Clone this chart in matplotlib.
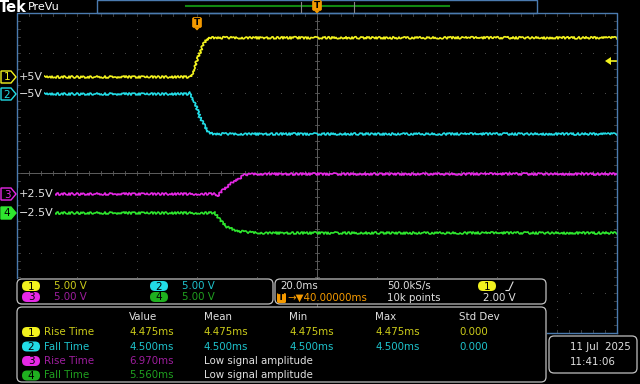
import matplotlib
matplotlib.use("Agg")
import matplotlib.pyplot as plt
from matplotlib.patches import FancyBboxPatch, Polygon, Rectangle
import numpy as np

# scope settings
volts_per_div = 5.0
ms_per_div = 20.0
t_left, t_right = -60.0, 140.0   # ms, trigger at 0

# channel ground markers (divisions from centre)
ch_offset = [2.4, 1.975, -0.525, -1.0]
ch_labels = ["+5V", "\u22125V", "+2.5V", "\u22122.5V"]
ch_colors = ["#f2f21e", "#22dce6", "#e628e6", "#2ee62e"]
txt_colors = ["#cccc1a", "#1ec3cc", "#9e1e9e", "#1fa01f"]

# waveform breakpoints (ms, V)
ch1_t = [-60, -2.0, 0.0, 2.0, 3.3, 5.0, 140]
ch1_v = [0.0, 0.0, 2.1, 4.0, 4.75, 4.9, 4.9]
ch2_t = [-60, -3.0, -2.3, -0.7, 1.0, 2.7, 4.0, 5.7, 140]
ch2_v = [0.0, 0.0, 0.15, -1.1, -2.9, -4.1, -4.9, -5.0, -5.0]
ch3_t = [-60, 6.3, 6.7, 8.7, 12.0, 14.3, 16.0, 18.3, 140]
ch3_v = [0.0, 0.0, -0.3, 0.5, 1.5, 2.0, 2.4, 2.5, 2.5]
ch4_t = [-60, 6.0, 7.7, 10.0, 13.3, 16.7, 22.0, 140]
ch4_v = [0.0, 0.0, -0.9, -1.75, -2.25, -2.4, -2.5, -2.5]
traces = [(ch1_t, ch1_v), (ch2_t, ch2_v), (ch3_t, ch3_v), (ch4_t, ch4_v)]

scale_text = ["5.00 V", "5.00 V", "5.00 V", "5.00 V"]
horiz_scale = "20.0ms"
sample_rate = "50.0kS/s"
delay_text = "\u2192\u25bc40.00000ms"
rec_len = "10k points"
trig_level = "2.00 V"

meas_header = ["Value", "Mean", "Min", "Max", "Std Dev"]
meas_names = ["Rise Time", "Fall Time", "Rise Time", "Fall Time"]
meas_rows = [
    ["4.475ms", "4.475ms", "4.475ms", "4.475ms", "0.000"],
    ["4.500ms", "4.500ms", "4.500ms", "4.500ms", "0.000"],
    ["6.970ms", "Low signal amplitude"],
    ["5.560ms", "Low signal amplitude"],
]
date_str = "11 Jul  2025"
time_str = "11:41:06"

W, H = 640, 384
fig = plt.figure(figsize=(W / 100, H / 100), dpi=100, facecolor="black")

# graticule: x 17..617 px, y 13..333 px
gx0, gy0, gx1, gy1 = 17, 13, 617, 333
ax = fig.add_axes([gx0 / W, 1 - gy1 / H, (gx1 - gx0) / W, (gy1 - gy0) / H])
ax.set_facecolor("black")
ax.set_xlim(t_left, t_right)
ax.set_ylim(-4, 4)
ax.axis("off")

grid_c = "#4a4a4a"
# dotted division lines
for k in range(1, 10):
    if k == 5:
        continue
    tx = t_left + k * ms_per_div
    ys = np.arange(-4, 4.01, 0.2)
    ax.plot([tx] * len(ys), ys, ls="none", marker="s", ms=0.7, color=grid_c, mew=0)
for j in range(-3, 4):
    if j == 0:
        continue
    xs = np.arange(t_left, t_right + 0.01, ms_per_div / 5)
    ax.plot(xs, [j] * len(xs), ls="none", marker="s", ms=0.7, color=grid_c, mew=0)
# centre lines with ticks
ax.axhline(0, color="#5e5e5e", lw=0.7)
ax.axvline(t_left + 5 * ms_per_div, color="#5e5e5e", lw=0.7)
for xs in np.arange(t_left, t_right + 0.01, ms_per_div / 5):
    ax.plot([xs, xs], [-0.06, 0.06], color="#5e5e5e", lw=0.6)
for ys in np.arange(-4, 4.01, 0.2):
    ax.plot([40 - 0.7, 40 + 0.7], [ys, ys], color="#5e5e5e", lw=0.6)
# edge ticks
for xs in np.arange(t_left, t_right + 0.01, ms_per_div / 5):
    ax.plot([xs, xs], [4, 3.93], color=grid_c, lw=0.6)
    ax.plot([xs, xs], [-4, -3.93], color=grid_c, lw=0.6)
for ys in np.arange(-4, 4.01, 0.2):
    ax.plot([t_left, t_left + 1.0], [ys, ys], color=grid_c, lw=0.6)
    ax.plot([t_right, t_right - 1.0], [ys, ys], color=grid_c, lw=0.6)

# waveforms
for (t, v), off, c in zip(traces, ch_offset, ch_colors):
    y = np.array(v) / volts_per_div + off
    ln, = ax.plot(t, y, color=c, lw=1.2, solid_joinstyle="round")
    ln.set_sketch_params(1.1, 2.5, 3.0)

# overlay in pixel coordinates
ov = fig.add_axes([0, 0, 1, 1])
ov.set_xlim(0, W)
ov.set_ylim(H, 0)
ov.axis("off")
ov.patch.set_alpha(0)

border_c = "#4b7bb0"
ov.plot([gx0, gx0, gx1, gx1], [278, gy0, gy0, gy1], color=border_c, lw=1.0)
ov.plot([547, gx1], [gy1, gy1], color=border_c, lw=1.0)

# top bar
ov.text(-1, 7, "Tek", color="white", fontsize=10.5, fontweight="bold", va="center", ha="left")
ov.text(28, 7, "PreVu", color="white", fontsize=8, va="center", ha="left")
ov.add_patch(Rectangle((97, 0), 440, 13, fill=False, ec=border_c, lw=1.0))
ov.plot([186, 449], [6, 6], color="#118811", lw=1.5)
ov.plot([301, 301], [2, 12], color="#888888", lw=0.8)
ov.plot([354, 354], [2, 12], color="#888888", lw=0.8)


def trig_tag(x, y):
    ov.add_patch(FancyBboxPatch((x - 4.5, y - 5.5), 9, 10,
                                boxstyle="round,pad=0,rounding_size=1.5",
                                fc="#f59a00", ec="#f59a00", lw=0.5, zorder=5))
    ov.add_patch(Polygon([(x - 3, y + 4.5), (x + 3, y + 4.5), (x, y + 7.5)],
                         closed=True, fc="#f59a00", ec="none", zorder=5))
    ov.text(x, y - 0.3, "T", color="black", fontsize=6.5, fontweight="bold",
            ha="center", va="center", zorder=6)


trig_tag(317, 6)
trig_tag(197, 23)

# trigger level arrow on the right
tl_y = 77 - 2.0 * 8
ov.add_patch(Polygon([(605, tl_y), (611, tl_y - 4), (611, tl_y + 4)],
                     closed=True, fc=ch_colors[0], ec="none"))
ov.plot([611, 616], [tl_y, tl_y], color=ch_colors[0], lw=1.2)

# channel markers and labels
for i in range(4):
    yy = 173 - ch_offset[i] * 40
    c = ch_colors[i]
    filled = (i == 3)
    pts = [(1, yy - 6), (11, yy - 6), (16, yy), (11, yy + 6), (1, yy + 6)]
    ov.add_patch(Polygon(pts, closed=True, fc=c if filled else "black",
                         ec=c, lw=1.0, zorder=4))
    ov.text(7, yy + 0.5, str(i + 1), color="black" if filled else c,
            fontsize=7.5, ha="center", va="center", zorder=5)
    ov.text(19, yy, ch_labels[i], color="#e0e0e0", fontsize=8, ha="left", va="center",
            zorder=5, bbox=dict(boxstyle="square,pad=0.1", fc="black", ec="none"))


def panel(x, y, w, h):
    ov.add_patch(FancyBboxPatch((x, y), w, h, boxstyle="round,pad=0,rounding_size=5",
                                fc="black", ec="#c0c0c0", lw=0.9, zorder=3))


def pill(x, y, n, c):
    ov.add_patch(FancyBboxPatch((x - 9, y - 5), 18, 10,
                                boxstyle="round,pad=0,rounding_size=5",
                                fc=c, ec="none", zorder=4))
    ov.text(x, y + 0.5, str(n), color="black", fontsize=7.5, ha="center",
            va="center", zorder=5)


fs = 7.4
# vertical scale panel
panel(17, 279, 256, 25)
for i in range(4):
    col = i % 2
    row = i // 2
    px = 31 + col * 128
    py = 286 + row * 11
    pill(px, py, i + 1, ch_colors[i] if i != 3 else "#1fb01f")
    ov.text(px + 23, py, scale_text[i], color=txt_colors[i], fontsize=fs,
            ha="left", va="center", zorder=5)

# horizontal / trigger panel
panel(275, 279, 271, 25)
ov.text(280, 286, horiz_scale, color="#e0e0e0", fontsize=fs, ha="left", va="center", zorder=5)
ov.text(387, 286, sample_rate, color="#e0e0e0", fontsize=fs, ha="left", va="center", zorder=5)
pill(487, 286, 1, ch_colors[0])
ov.plot([506, 509, 513], [290.5, 290.5, 282], color="#e0e0e0", lw=0.8, zorder=5)
ov.add_patch(FancyBboxPatch((277, 293), 9, 10, boxstyle="round,pad=0,rounding_size=1.5",
                            fc="#f59a00", ec="none", zorder=5))
ov.text(281.5, 298, "T", color="black", fontsize=6.5, fontweight="bold",
        ha="center", va="center", zorder=6)
ov.text(287, 298, delay_text, color="#f59a00", fontsize=fs, ha="left", va="center", zorder=5)
ov.text(387, 298, rec_len, color="#e0e0e0", fontsize=fs, ha="left", va="center", zorder=5)
ov.text(483, 298, trig_level, color="#e0e0e0", fontsize=fs, ha="left", va="center", zorder=5)

# measurement panel
panel(17, 307, 529, 75)
col_x = [129, 204, 289, 375, 459]
for cx, hd in zip(col_x, meas_header):
    ov.text(cx, 317, hd, color="#e0e0e0", fontsize=fs, ha="left", va="center", zorder=5)
for i in range(4):
    ry = 332 + i * 14.5
    pill(31, ry, i + 1, ch_colors[i] if i != 3 else "#1fb01f")
    ov.text(44, ry, meas_names[i], color=txt_colors[i], fontsize=fs, ha="left",
            va="center", zorder=5)
    vals = meas_rows[i]
    for j, v in enumerate(vals):
        c = txt_colors[i] if len(vals) == 5 or j == 0 else "#e0e0e0"
        ov.text(col_x[j], ry, v, color=c, fontsize=fs, ha="left", va="center", zorder=5)

# date box
panel(549, 336, 88, 37)
ov.text(570, 347, date_str, color="#e0e0e0", fontsize=fs, ha="left", va="center", zorder=5)
ov.text(570, 362, time_str, color="#e0e0e0", fontsize=fs, ha="left", va="center", zorder=5)

fig.savefig("out.png", dpi=100, facecolor="black")
